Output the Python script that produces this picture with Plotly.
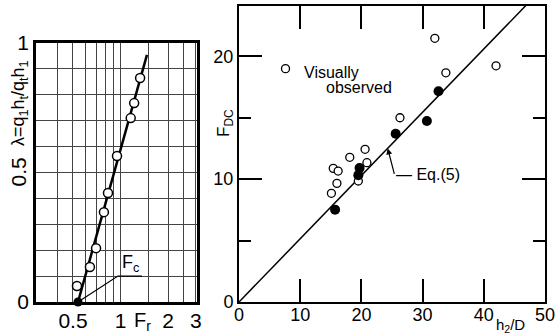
import math
import plotly.graph_objects as go

# ---------------- Left panel data ----------------
fr_open = [0.53, 0.64, 0.70, 0.785, 0.833, 0.95, 1.16, 1.22, 1.33]
lam_open = [0.062, 0.135, 0.208, 0.347, 0.421, 0.564, 0.71, 0.768, 0.865]
fr_crit = [0.538]
lam_crit = [0.0]
fit_fr = [0.538, 1.47]
fit_lam = [0.0, 0.954]
fc_leader_fr = [0.538, 0.963, 1.367]
fc_leader_lam = [0.0, 0.10, 0.10]
left_xticks = [0.5, 1, 2, 3]
left_xticktext = ["0.5", "1", "2", "3"]
left_xminor = [0.4, 0.6, 0.7, 0.8, 0.9, 1.5, 2.5]
left_yticks = [0, 1]
left_yticktext = ["0", "1"]
left_ymid_tick = 0.5
left_ymid_text = "0.5"

# ---------------- Right panel data ----------------
hd_open = [32.0, 33.8, 42.0, 26.3, 20.6, 18.1, 20.9, 15.4, 16.2, 16.0, 15.1, 19.5]
fdc_open = [21.47, 18.66, 19.23, 15.0, 12.43, 11.78, 11.34, 10.88, 10.66, 9.66, 8.85, 9.85]
hd_filled = [32.6, 30.7, 25.6, 19.7, 19.5, 15.7]
fdc_filled = [17.16, 14.73, 13.7, 10.9, 10.33, 7.52]
eq5_hd = [0, 50]
eq5_fdc = [0, 25.75]
legend_hd = [7.6]
legend_fdc = [19.0]
right_xticks = [0, 10, 20, 30, 40, 50]
right_yticks = [0, 10, 20]

FONT = "Liberation Sans, Arial, sans-serif"
BLACK = "black"

fig = go.Figure()

# Left panel traces
fig.add_trace(go.Scatter(x=fit_fr, y=fit_lam, mode="lines",
                         line=dict(color=BLACK, width=2.5), xaxis="x", yaxis="y",
                         showlegend=False, hoverinfo="skip"))
fig.add_trace(go.Scatter(x=fc_leader_fr, y=fc_leader_lam, mode="lines",
                         line=dict(color=BLACK, width=1.2), xaxis="x", yaxis="y",
                         showlegend=False, hoverinfo="skip"))
fig.add_trace(go.Scatter(x=fr_open, y=lam_open, mode="markers",
                         marker=dict(symbol="circle", size=9, color="white",
                                     line=dict(color=BLACK, width=1.5)),
                         xaxis="x", yaxis="y", showlegend=False, cliponaxis=False))
fig.add_trace(go.Scatter(x=fr_crit, y=lam_crit, mode="markers",
                         marker=dict(symbol="circle", size=9, color=BLACK),
                         xaxis="x", yaxis="y", showlegend=False, cliponaxis=False))

# Right panel traces
fig.add_trace(go.Scatter(x=eq5_hd, y=eq5_fdc, mode="lines",
                         line=dict(color=BLACK, width=1.5), xaxis="x2", yaxis="y2",
                         showlegend=False, hoverinfo="skip"))
fig.add_trace(go.Scatter(x=hd_open, y=fdc_open, mode="markers",
                         marker=dict(symbol="circle", size=8, color="white",
                                     line=dict(color=BLACK, width=1.3)),
                         xaxis="x2", yaxis="y2", showlegend=False))
fig.add_trace(go.Scatter(x=hd_filled, y=fdc_filled, mode="markers",
                         marker=dict(symbol="circle", size=10, color=BLACK),
                         xaxis="x2", yaxis="y2", showlegend=False))
fig.add_trace(go.Scatter(x=legend_hd, y=legend_fdc, mode="markers",
                         marker=dict(symbol="circle", size=8, color="white",
                                     line=dict(color=BLACK, width=1.3)),
                         xaxis="x2", yaxis="y2", showlegend=False))

fig.update_layout(
    width=556, height=336,
    margin=dict(l=0, r=0, t=0, b=0, autoexpand=False),
    paper_bgcolor="white", plot_bgcolor="white",
    font=dict(family=FONT, color=BLACK, size=16),
    showlegend=False,
    xaxis=dict(
        domain=[36/556, 197/556], type="log",
        range=[-0.535, 0.484], automargin=False,
        tickmode="array", tickvals=left_xticks, ticktext=left_xticktext,
        ticks="", showgrid=True, gridcolor="#444", gridwidth=1,
        minor=dict(tickmode="array", tickvals=left_xminor, showgrid=True,
                   gridcolor="#444", gridwidth=1, ticks=""),
        showline=True, linecolor=BLACK, linewidth=2.5, mirror=True,
        zeroline=False, tickfont=dict(size=21, family=FONT),
        ticklabelstandoff=-2,
        anchor="y",
    ),
    yaxis=dict(
        domain=[34/336, 293/336], range=[0, 1], automargin=False,
        tickmode="array", tickvals=left_yticks, ticktext=left_yticktext,
        ticks="", showgrid=True, gridcolor="#444", gridwidth=1,
        minor=dict(dtick=0.1, showgrid=True, gridcolor="#444", gridwidth=1, ticks=""),
        showline=True, linecolor=BLACK, linewidth=2.5, mirror=True,
        zeroline=False, tickfont=dict(size=21, family=FONT),
        anchor="x",
    ),
    xaxis2=dict(
        domain=[239/556, 545/556], range=[0, 50], automargin=False,
        tickmode="array", tickvals=right_xticks,
        ticks="inside", ticklen=23, tickwidth=2, tickcolor=BLACK,
        showgrid=False, zeroline=False,
        showline=True, linecolor=BLACK, linewidth=2, mirror="ticks",
        tickfont=dict(size=18, family=FONT),
        ticklabelstandoff=-5,
        anchor="y2",
    ),
    yaxis2=dict(
        domain=[34/336, 330/336], range=[0, 24.1], automargin=False,
        tickmode="array", tickvals=right_yticks,
        ticks="inside", ticklen=23, tickwidth=2, tickcolor=BLACK,
        minor=dict(dtick=5, ticks="inside", ticklen=12, tickwidth=2, tickcolor=BLACK),
        showgrid=False, zeroline=False,
        showline=True, linecolor=BLACK, linewidth=2, mirror="ticks",
        tickfont=dict(size=18, family=FONT),
        anchor="x2",
    ),
)

annotations = [
    # left y-axis middle tick label (rotated, as in the original)
    dict(text=left_ymid_text, xref="paper", yref="y", x=18/556, y=left_ymid_tick,
         xanchor="center", yanchor="middle", textangle=-90, showarrow=False,
         font=dict(size=21, family=FONT)),
    # left y-axis title
    dict(text="λ=q<sub>1</sub>h<sub>t</sub>/q<sub>t</sub>h<sub>1</sub>",
         xref="paper", yref="paper", x=19/556, y=1-103/336,
         xanchor="center", yanchor="middle",
         textangle=-90, showarrow=False, font=dict(size=18, family=FONT)),
    # left x-axis title
    dict(text="F<sub>r</sub>", xref="paper", yref="paper", x=142/556, y=1-321/336,
         xanchor="center", yanchor="middle",
         showarrow=False, font=dict(size=20, family=FONT)),
    # Fc label
    dict(text="F<sub>c</sub>", xref="x", yref="y", x=math.log10(1.16), y=0.15,
         showarrow=False, font=dict(size=18, family=FONT)),
    # right axis titles
    dict(text="F<sub>DC</sub>", xref="paper", yref="paper", x=225/556, y=1-123/336,
         xanchor="center", yanchor="middle",
         textangle=-90, showarrow=False, font=dict(size=17, family=FONT)),
    dict(text="h<sub>2</sub>/D", xref="paper", yref="paper", x=511/556, y=1-325/336,
         xanchor="center", yanchor="middle",
         showarrow=False, font=dict(size=15, family=FONT)),
    # legend text
    dict(text="Visually", xref="x2", yref="y2", x=10.3, y=18.7, xanchor="left",
         showarrow=False, font=dict(size=16, family=FONT)),
    dict(text="observed", xref="x2", yref="y2", x=13.9, y=17.45, xanchor="left",
         showarrow=False, font=dict(size=16, family=FONT)),
    # Eq.(5) arrow
    dict(text="", xref="x2", yref="y2", x=24.3, y=12.5, ax=7, ay=27,
         showarrow=True, arrowhead=2, arrowsize=1, arrowwidth=1.2, arrowcolor=BLACK),
    dict(text="— Eq.(5)", xref="x2", yref="y2", x=25.3, y=10.35, xanchor="left",
         showarrow=False, font=dict(size=16, family=FONT)),
]
fig.update_layout(annotations=annotations)

fig.write_html("out.html", config={"displayModeBar": False},
               post_script="document.body.style.margin='0';")
